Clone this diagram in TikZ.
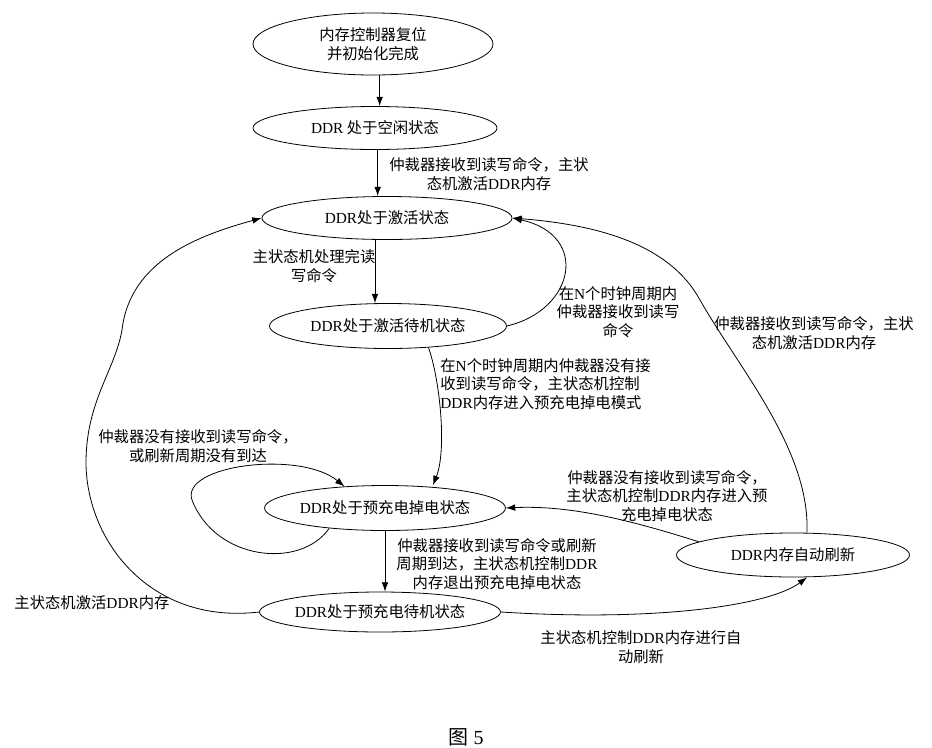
\documentclass[tikz,border=0pt]{standalone}
\usepackage{fontspec}
\setmainfont{Liberation Serif}
\newfontfamily\cjk{Noto Sans CJK SC}
\usetikzlibrary{positioning, arrows.meta, shapes.geometric}
\newcommand{\ddr}{{\rmfamily DDR}}

\begin{document}
\begin{tikzpicture}[
    x=0.75pt, y=-0.75pt,
    state/.style={draw, ellipse, inner sep=0pt, font=\cjk\fontsize{11.5}{14}\selectfont, align=center},
    lbl/.style={inner sep=0pt, font=\cjk\fontsize{11.5}{14}\selectfont, align=center},
    >={Latex[length=7pt, width=5pt]},
    line width=0.6pt
]
  \useasboundingbox (0,0) rectangle (932,747);

  \node[state, minimum width=180pt, minimum height=46.5pt] (init) at (373,44) {内存控制器复位\\并初始化完成};
  \node[state, minimum width=183pt, minimum height=32.25pt] (idle) at (375,128) {\ddr{} 处于空闲状态};
  \node[state, minimum width=187.5pt, minimum height=32.25pt] (act) at (387,218) {\ddr{}处于激活状态};
  \node[state, minimum width=177.75pt, minimum height=33.75pt] (actstby) at (388,326) {\ddr{}处于激活待机状态};
  \node[state, minimum width=176.25pt, minimum height=33.75pt] (pdn) at (385,508) {\ddr{}处于预充电掉电状态};
  \node[state, minimum width=177pt, minimum height=30pt] (prestby) at (380,612) {\ddr{}处于预充电待机状态};
  \node[state, minimum width=174.75pt, minimum height=33pt] (refresh) at (793,555) {\ddr{}内存自动刷新};

  \node[lbl] (l1) at (489,174) {仲裁器接收到读写命令，主状\\态机激活\ddr{}内存};
  \node[lbl] (l2) at (314,266) {主状态机处理完读\\写命令};
  \node[lbl] (l3) at (618,312) {在{\rmfamily N}个时钟周期内\\仲裁器接收到读写\\命令};
  \node[lbl, align=left, anchor=west] (l4) at (440,384) {在{\rmfamily N}个时钟周期内仲裁器没有接\\收到读写命令，主状态机控制\\\ddr{}内存进入预充电掉电模式};
  \node[lbl] (l5) at (198,446) {仲裁器没有接收到读写命令，\\或刷新周期没有到达};
  \node[lbl] (l6) at (667,496) {仲裁器没有接收到读写命令，\\主状态机控制\ddr{}内存进入预\\充电掉电状态};
  \node[lbl] (l7) at (497,564) {仲裁器接收到读写命令或刷新\\周期到达，主状态机控制\ddr\\内存退出预充电掉电状态};
  \node[lbl] (l8) at (641,647) {主状态机控制\ddr{}内存进行自\\动刷新};
  \node[lbl] (l9) at (814,333) {仲裁器接收到读写命令，主状\\态机激活\ddr{}内存};
  \node[lbl] (l10) at (92,603) {主状态机激活\ddr{}内存};
  \node[font=\fontsize{15}{18}\selectfont] (cap) at (466,737) {{\cjk 图} 5};

  \draw[->] ([xshift=5pt]init.south) -- ([xshift=5pt]init.south |- idle.north);
  \draw[->] ([xshift=2pt]idle.south) -- ([xshift=2pt]idle.south |- act.north);
  \draw[->] (act.south -| idle) -- (idle |- actstby.north);
  \draw[->] (actstby.east) .. controls (575,310) and (590,235) .. (act.east);
  \draw[->] (actstby.-28) .. controls (440,380) and (447,450) .. (pdn.north -| 433,0);
  \draw[->] (pdn.200) .. controls (300,570) and (215,560) .. (192,500)
            .. controls (180,465) and (300,450) .. (pdn.152);
  \draw[->] (pdn) -- (pdn |- prestby.north);
  \draw[->] (prestby.east) .. controls (660,622) and (770,605) .. ([xshift=10.5pt]refresh.south);
  \draw[->] (refresh.172) .. controls (630,520) and (570,505) .. (pdn.east);
  \draw[->] ([xshift=10.5pt]refresh.north) .. controls (810,450) and (740,370) .. (700,300)
            .. controls (670,245) and (600,225) .. (act.east);
  \draw[->] (prestby.west) .. controls (150,625) and (85,540) .. (86,460)
            .. controls (87,400) and (115,370) .. (122,330)
            .. controls (130,260) and (200,235) .. (act.west);
\end{tikzpicture}
\end{document}
